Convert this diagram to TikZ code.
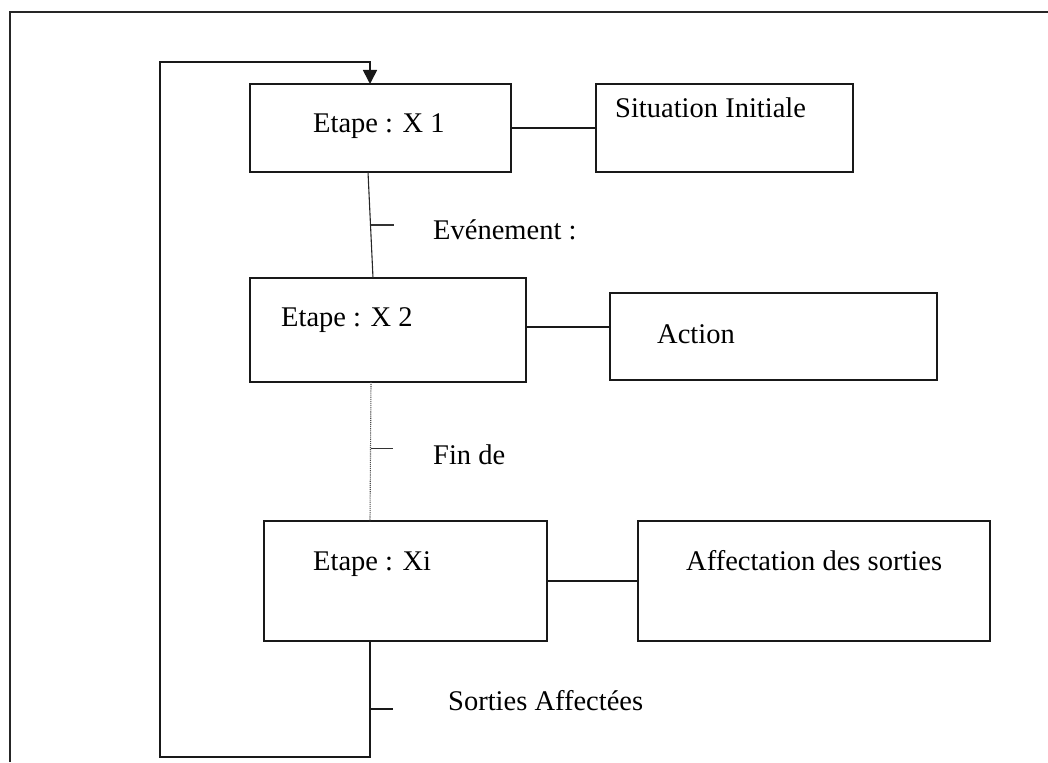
\documentclass[tikz,border=0pt]{standalone}
\usepackage{fontspec}
\setmainfont{Liberation Serif}
\usetikzlibrary{calc,arrows.meta}
\begin{document}
\begin{tikzpicture}[x=1pt,y=-1pt,
  frameline/.style={line width=1.8pt, draw=black!85},
  box/.style={draw=black!90, line width=1.8pt, rectangle, inner sep=0pt, outer sep=0pt},
  lbl/.style={anchor=base west, inner sep=0pt, font=\fontsize{28.5}{34}\selectfont},
  link/.style={line width=1.6pt, draw=black!90},
  thinlink/.style={line width=1.1pt, draw=black!85},
  dotlink/.style={line width=1.1pt, densely dotted, draw=black!70},
  tickmark/.style={line width=1.2pt, draw=black!80}]
\useasboundingbox (0,0) rectangle (1048,762);

% page frame
\draw[frameline] (10,762) -- (10,12) -- (1048,12);

% step boxes and their side boxes
\node[box, minimum width=261pt, minimum height=88pt]  (x1)  at (380.5,128) {};
\node[box, minimum width=257pt, minimum height=88pt]  (sit) at (724.5,128) {};
\node[box, minimum width=276pt, minimum height=104pt] (x2)  at (388,330) {};
\node[box, minimum width=327pt, minimum height=87pt]  (act) at (773.5,336.5) {};
\node[box, minimum width=283pt, minimum height=120pt] (xi)  at (405.5,581) {};
\node[box, minimum width=352pt, minimum height=120pt] (aff) at (814,581) {};

% texts
\node[lbl] (tx1)  at (313,133) {Etape : X 1};
\node[lbl] (tsit) at (615,118) {Situation Initiale};
\node[lbl] (tev)  at (433,239) {Evénement :};
\node[lbl] (tx2)  at (281,326) {Etape : X 2};
\node[lbl] (tact) at (657,343) {Action};
\node[lbl] (tfin) at (433,464) {Fin de};
\node[lbl] (txi)  at (313,570) {Etape : Xi};
\node[lbl] (taff) at (686,570) {Affectation des sorties};
\node[lbl] (tso)  at (448,710) {Sorties Affectées};

% side links
\draw[link] (x1.east) -- (sit.west);
\coordinate (x2r) at ($(x2.east)+(0,-3)$);
\draw[link] (x2r) -- (x2r -| act.west);
\draw[link] (xi.east) -- (aff.west);

% transitions between steps
\coordinate (v1a) at ($(x1.south west)+(118,0)$);
\coordinate (v1b) at ($(x2.north west)+(123,0)$);
\draw[thinlink] (v1a) -- (v1b);
\draw[tickmark] ($(v1a)!0.5!(v1b)$) -- ++(23,0);

\coordinate (v2a) at ($(x2.south west)+(121,0)$);
\coordinate (v2b) at ($(xi.north west)+(106,0)$);
\draw[dotlink] (v2a) -- (v2b);
\draw[tickmark] ($(v2a)!0.48!(v2b)$) -- ++(22,0);

\coordinate (v3a) at ($(xi.south west)+(106,0)$);
\coordinate (lb) at (160,757);
\coordinate (lt) at (160,62);
\coordinate (x1in) at ($(x1.north west)+(120,0)$);
\draw[link] ($(v3a)!0.586!(v3a |- lb)$) -- ++(23,0);

% return loop to the first step
\draw[link, -{Triangle[width=14pt,length=14pt]}] (v3a) |- (lb) -- (lt) -| (x1in);
\end{tikzpicture}
\end{document}
